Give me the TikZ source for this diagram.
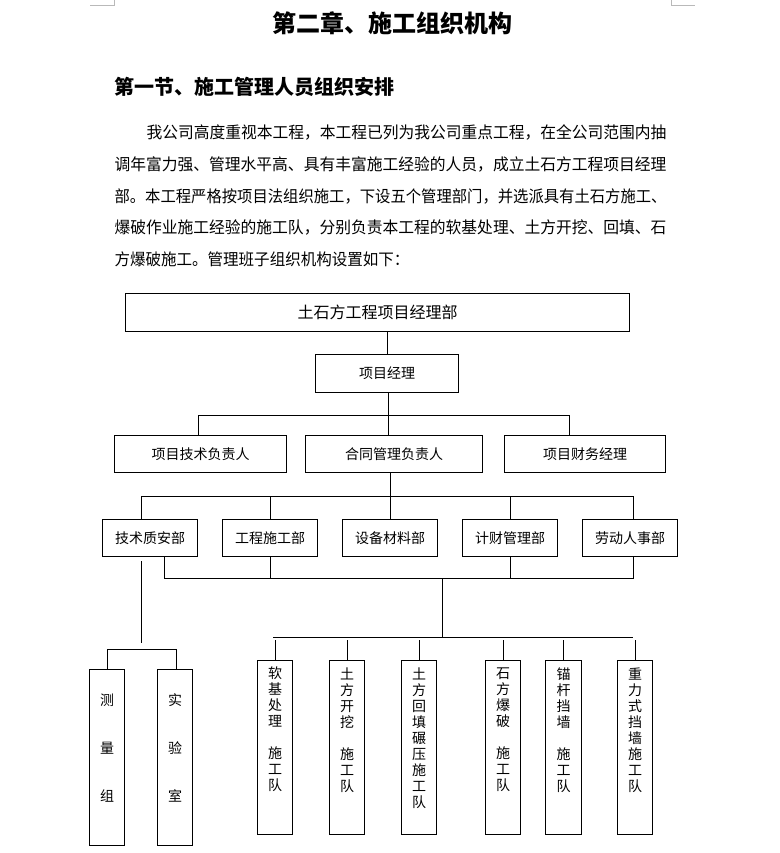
\documentclass[tikz,border=0pt]{standalone}
\usepackage{fontspec}
\usepackage{graphicx}
\setmainfont{Noto Sans CJK SC}
\begin{document}
\begin{tikzpicture}[x=1pt,y=-1pt,line width=1pt,
  box/.style={draw,line width=1pt,inner sep=0pt,anchor=north west,
    font=\fontsize{14}{16}\selectfont,text height=12.3pt,text depth=1.7pt},
  vtext/.style={inner sep=0pt,anchor=north,align=center,
    font=\fontsize{14}{16}\selectfont},
  para/.style={inner sep=0pt,anchor=west,font=\fontsize{16.25}{20}\selectfont,
    text height=14.3pt,text depth=1.95pt},
  cornermark/.style={draw=gray!55,line width=0.8pt}]
\useasboundingbox[fill=white] (0,0) rectangle (779,853);

% page corner marks
\coordinate (ml1) at (90,5); \coordinate (ml2) at (114,5); \coordinate (ml3) at (114,0);
\coordinate (mr1) at (671,0); \coordinate (mr2) at (671,5); \coordinate (mr3) at (695,5);
\draw[cornermark] (ml1) -- (ml2) -- (ml3);
\draw[cornermark] (mr1) -- (mr2) -- (mr3);

% headings
\node[inner sep=0pt,font=\fontsize{24}{28}\selectfont\bfseries] (title) at (392,23) {第二章、施工组织机构};
\node[inner sep=0pt,anchor=west,font=\fontsize{20}{24}\selectfont\bfseries] (sec) at (114,87) {第一节、施工管理人员组织安排};

% paragraph
\node[para] (p1) at (146,132) {\resizebox{520pt}{\height}{我公司高度重视本工程，本工程已列为我公司重点工程，在全公司范围内抽}};
\node[para] (p2) at (114,164) {\resizebox{552pt}{\height}{调年富力强、管理水平高、具有丰富施工经验的人员，成立土石方工程项目经理}};
\node[para] (p3) at (114,196) {\resizebox{552pt}{\height}{部。本工程严格按项目法组织施工，下设五个管理部门，并选派具有土石方施工、}};
\node[para] (p4) at (114,227) {\resizebox{552pt}{\height}{爆破作业施工经验的施工队，分别负责本工程的软基处理、土方开挖、回填、石}};
\node[para] (p5) at (114,259) {\resizebox{295pt}{\height}{方爆破施工。管理班子组织机构设置如下：}};

% level 1-3
\node[box,minimum width=504pt,minimum height=38pt,font=\fontsize{16}{18}\selectfont,text height=14pt,text depth=2pt] (top) at (125,293) {土石方工程项目经理部};
\node[box,minimum width=143pt,minimum height=38pt] (pm) at (315,354) {项目经理};
\node[box,minimum width=172pt,minimum height=37pt] (tech) at (114,435) {项目技术负责人};
\node[box,minimum width=177pt,minimum height=37pt] (contract) at (305,435) {合同管理负责人};
\node[box,minimum width=161pt,minimum height=37pt] (fin) at (504,435) {项目财务经理};

% level 4
\node[box,minimum width=95pt,minimum height=37pt] (tq) at (102,519) {技术质安部};
\node[box,minimum width=95pt,minimum height=37pt] (gc) at (222,519) {工程施工部};
\node[box,minimum width=95pt,minimum height=37pt] (sb) at (342,519) {设备材料部};
\node[box,minimum width=95pt,minimum height=37pt] (jc) at (462,519) {计财管理部};
\node[box,minimum width=95pt,minimum height=37pt] (ld) at (582,519) {劳动人事部};

% bottom boxes
\node[box,minimum width=35pt,minimum height=176pt] (cl) at (89,669) {};
\node[box,minimum width=35pt,minimum height=176pt] (sy) at (157,669) {};
\node[box,minimum width=35pt,minimum height=174.5pt] (rj) at (257,659.5) {};
\node[box,minimum width=35pt,minimum height=174pt] (tw) at (329,660) {};
\node[box,minimum width=35pt,minimum height=174pt] (th) at (401,660) {};
\node[box,minimum width=35pt,minimum height=174pt] (sf) at (485,660) {};
\node[box,minimum width=36pt,minimum height=174pt] (mg) at (545,660) {};
\node[box,minimum width=35pt,minimum height=174pt] (zl) at (617,660) {};

\node[vtext] (cl-t) at ([yshift=-24.5pt]cl.north) {测\\[32pt]量\\[32pt]组};
\node[vtext] (sy-t) at ([yshift=-24.5pt]sy.north) {实\\[32pt]验\\[32pt]室};
\node[vtext] (rj-t) at ([yshift=-7pt]rj.north) {软\\基\\处\\理\\[16pt]施\\工\\队};
\node[vtext] (tw-t) at ([yshift=-7pt]tw.north) {土\\方\\开\\挖\\[16pt]施\\工\\队};
\node[vtext] (th-t) at ([yshift=-7pt]th.north) {土\\方\\回\\填\\碾\\压\\施\\工\\队};
\node[vtext] (sf-t) at ([yshift=-7pt]sf.north) {石\\方\\爆\\破\\[16pt]施\\工\\队};
\node[vtext] (mg-t) at ([yshift=-7pt]mg.north) {锚\\杆\\挡\\墙\\[16pt]施\\工\\队};
\node[vtext] (zl-t) at ([yshift=-7pt]zl.north) {重\\力\\式\\挡\\墙\\施\\工\\队};

% connectors level 1-3
\draw (pm.north) -- (pm.north |- top.south);
\coordinate (b3l) at (198,415);
\coordinate (b3r) at (569,415);
\coordinate (b3c) at (388,415);
\draw (b3c |- pm.south) -- (b3c |- contract.north);
\draw (b3l |- tech.north) -- (b3l) -- (b3r) -- (b3r |- fin.north);

% connectors level 4 (upper bus)
\coordinate (b4l) at (141,496);
\coordinate (b4r) at (633,496);
\draw (sb.north |- contract.south) -- (sb.north);
\draw (b4l |- tq.north) -- (b4l) -- (b4r) -- (b4r |- ld.north);
\draw (gc.north) -- (gc.north |- b4l);
\draw (jc.north) -- (jc.north |- b4l);

% lower bus
\coordinate (l4l) at (164,578);
\coordinate (l4r) at (633,578);
\coordinate (l4c) at (442,578);
\draw (l4l |- tq.south) -- (l4l) -- (l4r) -- (l4r |- ld.south);
\draw (gc.south) -- (gc.south |- l4l);
\draw (jc.south) -- (jc.south |- l4l);

% team bus
\coordinate (tbl) at (273,637);
\coordinate (tbr) at (633,637);
\coordinate (tbc) at (442,637);
\coordinate (tgap) at (0,640);
\draw (l4c) -- (tbc);
\draw (tbl) -- (tbr);
\foreach \n in {rj,tw,th,sf,mg,zl}{\draw (\n.north |- tgap) -- (\n.north);}

% survey / lab branch
\coordinate (sv1) at (141,561);
\coordinate (sv2) at (141,643);
\coordinate (svl) at (107,649);
\coordinate (svr) at (176,649);
\draw (sv1) -- (sv2);
\draw (svl |- cl.north) -- (svl) -- (svr) -- (svr |- sy.north);
\end{tikzpicture}
\end{document}
